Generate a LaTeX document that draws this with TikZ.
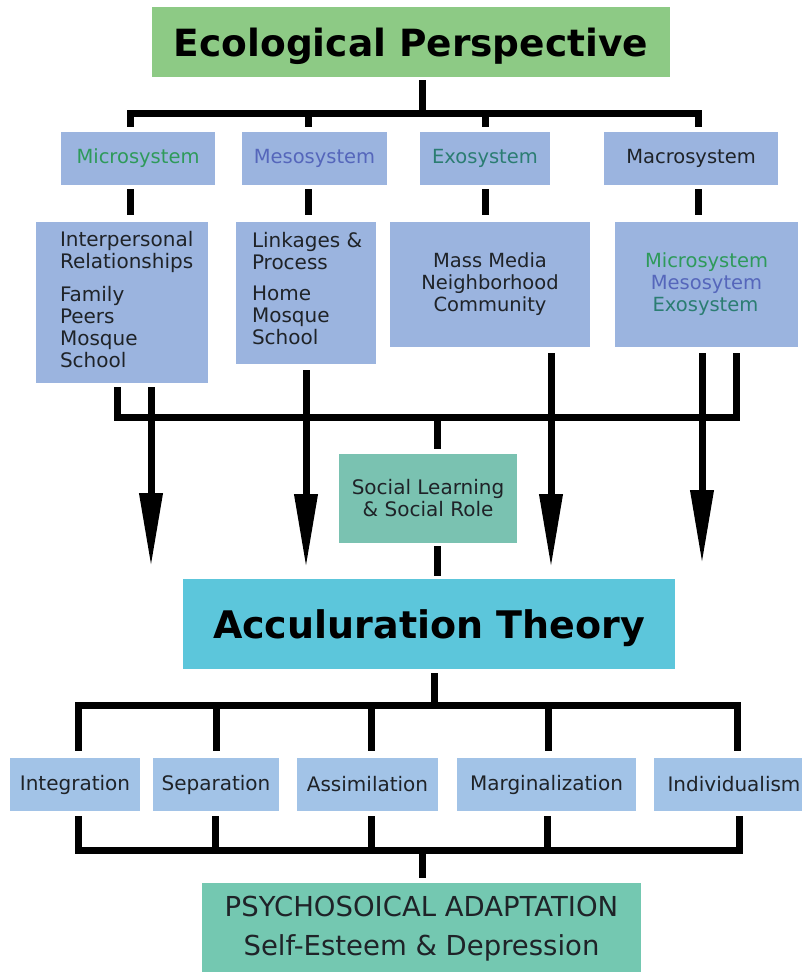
\documentclass[tikz,border=0pt]{standalone}
\usepackage{fontspec}
\setmainfont{DejaVu Sans}
\usetikzlibrary{arrows.meta,calc}
\definecolor{cTitle}{HTML}{8DCA85}
\definecolor{cBox}{HTML}{9BB4DF}
\definecolor{cBoxLow}{HTML}{A2C3E7}
\definecolor{cSoc}{HTML}{7AC2B1}
\definecolor{cAcc}{HTML}{5CC6DB}
\definecolor{cPsy}{HTML}{74C8B1}
\definecolor{cMicro}{HTML}{2E9A5A}
\definecolor{cMeso}{HTML}{5566BB}
\definecolor{cExo}{HTML}{2B7D72}
\definecolor{cDark}{HTML}{1F2328}
\begin{document}
\begin{tikzpicture}[x=1pt,y=-1pt,
  every node/.style={font=\fontsize{19.5}{22}\selectfont, text=cDark},
  box/.style={rectangle, inner sep=0pt, draw=none},
  sbox/.style={box, fill=cBox, minimum height=53},
  lbox/.style={box, fill=cBoxLow, minimum height=53, font=\fontsize{20}{22}\selectfont},
  conn/.style={line width=7pt, line join=miter, draw=black},
  arr/.style={line width=7pt, draw=black, -{Triangle[length=74pt,width=22pt]}}]
\useasboundingbox (0,0) rectangle (802,972);

% title
\node[box, fill=cTitle, minimum width=518, minimum height=70, text depth=0pt,
  font=\fontsize{37.5}{40}\selectfont\bfseries, text=black] (title) at (411,42) {Ecological Perspective};

% system boxes
\node[sbox, minimum width=154, text=cMicro] (micro) at (138,158.5) {Microsystem};
\node[sbox, minimum width=145, text=cMeso] (meso) at (314.5,158.5) {Mesosystem};
\node[sbox, minimum width=130, text=cExo] (exo) at (485,158.5) {Exosystem};
\node[sbox, minimum width=174] (macro) at (691,158.5) {Macrosystem};

% detail boxes
\node[box, fill=cBox, minimum width=172, minimum height=161] (microd) at (122,302.5) {};
\node[anchor=north west, inner sep=0pt, align=left, font=\fontsize{20}{22}\selectfont] (microdtext)
  at ([xshift=24pt,yshift=-9pt]microd.north west)
  {Interpersonal\\Relationships\\[11pt]Family\\Peers\\Mosque\\School};
\node[box, fill=cBox, minimum width=140, minimum height=142] (mesod) at (306,293) {};
\node[anchor=north west, inner sep=0pt, align=left, font=\fontsize{20}{22}\selectfont] (mesodtext)
  at ([xshift=16pt,yshift=-10pt]mesod.north west)
  {Linkages \&\\Process\\[9pt]Home\\Mosque\\School};
\node[box, fill=cBox, minimum width=200, minimum height=125, align=center] (exod) at (490,284.5)
  {Mass Media\\Neighborhood\\Community};
\node[box, fill=cBox, minimum width=183, minimum height=125, align=center] (macrod) at (706.5,284.5)
  {\textcolor{cMicro}{Microsystem}\\\textcolor{cMeso}{Mesosytem}\\\textcolor{cExo}{Exosystem}\hspace*{2pt}};

% social learning and acculturation
\node[box, fill=cSoc, minimum width=178, minimum height=89, align=center,
  font=\fontsize{20}{22}\selectfont] (social) at (428,498.5)
  {Social Learning\\\& Social Role};
\node[box, fill=cAcc, minimum width=492, minimum height=90, text depth=0pt,
  font=\fontsize{38}{42}\selectfont\bfseries, text=black] (accul) at (429,624) {Acculuration Theory};

% strategies
\node[lbox, minimum width=130] (integ) at (75,784.5) {Integration};
\node[lbox, minimum width=126] (sep) at (216,784.5) {Separation};
\node[lbox, minimum width=141] (assim) at (367.5,784.5) {Assimilation};
\node[lbox, minimum width=179] (marg) at (546.5,784.5) {Marginalization};
\node[lbox, minimum width=160] (indiv) at (734,784.5) {Individualism};

% outcome
\node[box, fill=cPsy, minimum width=439, minimum height=92, align=center,
  font=\fontsize{27.5}{39}\selectfont] (psych) at (421.5,929)
  {PSYCHOSOICAL ADAPTATION\\Self-Esteem \& Depression};

% ---- top connectors
\coordinate (tT) at (422,113);
\coordinate (t1) at (130,113);
\coordinate (t2) at (308,113);
\coordinate (t3) at (485,113);
\coordinate (t4) at (698,113);
\draw[conn, shorten <=3pt] (title.south -| tT) -- (tT);
\draw[conn, shorten <=5pt, shorten >=5pt] (micro.north -| t1) -- (t1) -- (t4) -- (macro.north -| t4);
\draw[conn, shorten >=5pt] (t2) -- (meso.north -| t2);
\draw[conn, shorten >=5pt] (t3) -- (exo.north -| t3);
\draw[conn, shorten <=4pt, shorten >=7pt] (micro.south -| t1) -- (microd.north -| t1);
\draw[conn, shorten <=4pt, shorten >=7pt] (meso.south -| t2) -- (mesod.north -| t2);
\draw[conn, shorten <=4pt, shorten >=7pt] (exo.south -| t3) -- (exod.north -| t3);
\draw[conn, shorten <=4pt, shorten >=7pt] (macro.south -| t4) -- (macrod.north -| t4);

% ---- middle connectors
\coordinate (m1) at (117,417);
\coordinate (m2) at (736,417);
\coordinate (mS) at (437,417);
\draw[conn, shorten <=4pt, shorten >=6pt] (microd.south -| m1) -- (m1) -- (m2) -- (macrod.south -| m2);
\draw[conn, shorten >=5pt] (mS) -- (social.north -| mS);
\draw[conn, shorten <=3pt, shorten >=3pt] (social.south -| mS) -- (accul.north -| mS);
\coordinate (a1) at (151,567);
\coordinate (a2) at (306,568);
\coordinate (a3) at (551,568);
\coordinate (a4) at (702,564);
\draw[arr, shorten <=4pt] (microd.south -| a1) -- (a1);
\draw[arr, shorten <=6pt] (mesod.south -| a2) -- (a2);
\draw[arr, shorten <=6pt] (exod.south -| a3) -- (a3);
\draw[arr, shorten <=6pt] (macrod.south -| a4) -- (a4);

% ---- bottom connectors
\coordinate (bT) at (434,705);
\coordinate (b1) at (78,705);
\coordinate (b2) at (216,705);
\coordinate (b3) at (371,705);
\coordinate (b4) at (548,705);
\coordinate (b5) at (737,705);
\draw[conn, shorten <=4pt] (accul.south -| bT) -- (bT);
\draw[conn, shorten <=7pt, shorten >=7pt] (integ.north -| b1) -- (b1) -- (b5) -- (indiv.north -| b5);
\draw[conn, shorten >=7pt] (b2) -- (sep.north -| b2);
\draw[conn, shorten >=7pt] (b3) -- (assim.north -| b3);
\draw[conn, shorten >=7pt] (b4) -- (marg.north -| b4);

\coordinate (lT) at (422,850);
\coordinate (l1) at (78,850);
\coordinate (l2) at (215,850);
\coordinate (l3) at (371,850);
\coordinate (l4) at (547,850);
\coordinate (l5) at (739,850);
\draw[conn, shorten <=5pt, shorten >=5pt] (integ.south -| l1) -- (l1) -- (l5) -- (indiv.south -| l5);
\draw[conn, shorten <=5pt] (sep.south -| l2) -- (l2);
\draw[conn, shorten <=5pt] (assim.south -| l3) -- (l3);
\draw[conn, shorten <=5pt] (marg.south -| l4) -- (l4);
\draw[conn, shorten >=5pt] (lT) -- (psych.north -| lT);
\end{tikzpicture}
\end{document}
